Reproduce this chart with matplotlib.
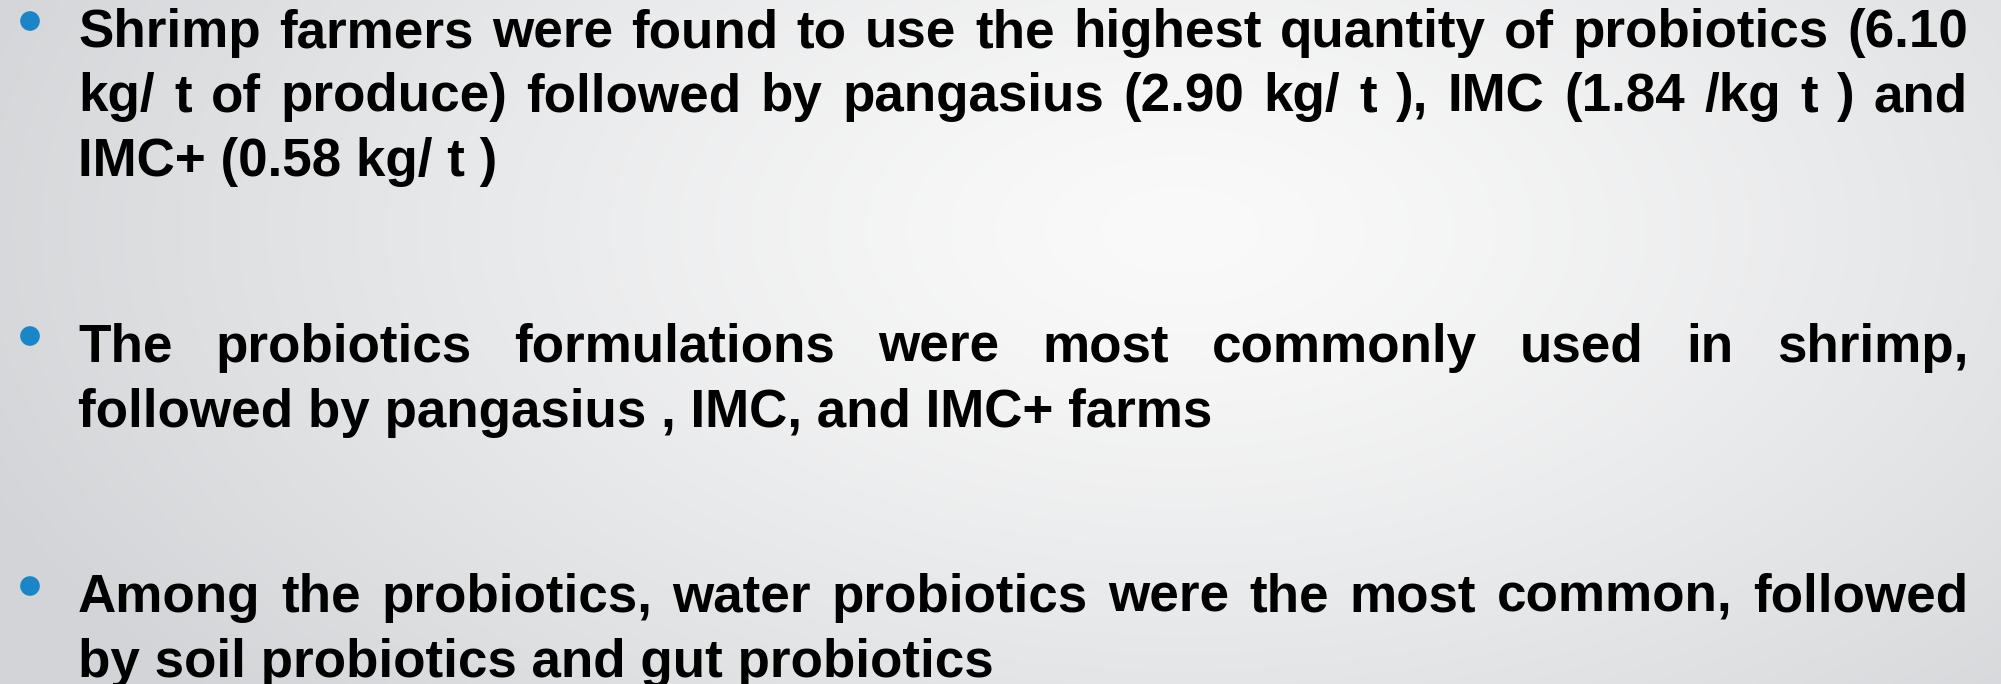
import numpy as np
import matplotlib
matplotlib.use('Agg')
import matplotlib.pyplot as plt

# slide text, one list per bullet, one string per printed line
para1 = ["Shrimp farmers were found to use the highest quantity of probiotics (6.10",
         "kg/ t of produce) followed by pangasius (2.90 kg/ t ), IMC (1.84 /kg t ) and",
         "IMC+ (0.58 kg/ t )"]
para2 = ["The probiotics formulations were most commonly used in shrimp,",
         "followed by pangasius , IMC, and IMC+ farms"]
para3 = ["Among the probiotics, water probiotics were the most common, followed",
         "by soil probiotics and gut probiotics"]
paragraphs = [para1, para2, para3]

# layout (pixels)
W, H = 2001, 684
left, right = 78, 1968
first_baseline = [47, 362, 612]
line_pitch = 64.5
bullet_x = 30
bullet_up = 26
fsize = 38.2
font = ['Liberation Sans', 'Arial', 'DejaVu Sans']

fig = plt.figure(figsize=(W / 100, H / 100), dpi=100)
ax = fig.add_axes([0, 0, 1, 1])
ax.set_xlim(0, W)
ax.set_ylim(H, 0)
ax.axis('off')

# soft radial grey background
yy, xx = np.mgrid[0:H, 0:W]
r = np.sqrt(((xx - 1180) / 1300.0) ** 2 + ((yy - 230) / 720.0) ** 2)
r = np.clip(r, 0, 1)
inner = np.array([250, 250, 250]) / 255.0
outer = np.array([210, 212, 215]) / 255.0
img = inner + (outer - inner) * r[..., None] ** 1.3
ax.imshow(img, extent=(0, W, H, 0), aspect='auto', zorder=0)

fig.canvas.draw()
renderer = fig.canvas.get_renderer()

for lines, y0 in zip(paragraphs, first_baseline):
    ax.scatter([bullet_x], [y0 - bullet_up], s=200, color='#1a86c8',
               edgecolors='none', zorder=3)
    for i, line in enumerate(lines):
        y = y0 + i * line_pitch
        if i == len(lines) - 1:
            ax.text(left, y, line, fontsize=fsize, fontweight='bold',
                    family=font, va='baseline', ha='left', color='black')
            continue
        words = line.split(' ')
        texts = [ax.text(0, y, w, fontsize=fsize, fontweight='bold', family=font,
                         va='baseline', ha='left', color='black') for w in words]
        widths = [t.get_window_extent(renderer).width for t in texts]
        gap = (right - left - sum(widths)) / (len(words) - 1)
        x = left
        for t, w in zip(texts, widths):
            t.set_x(x)
            x += w + gap

fig.savefig('out.png', dpi=100)
